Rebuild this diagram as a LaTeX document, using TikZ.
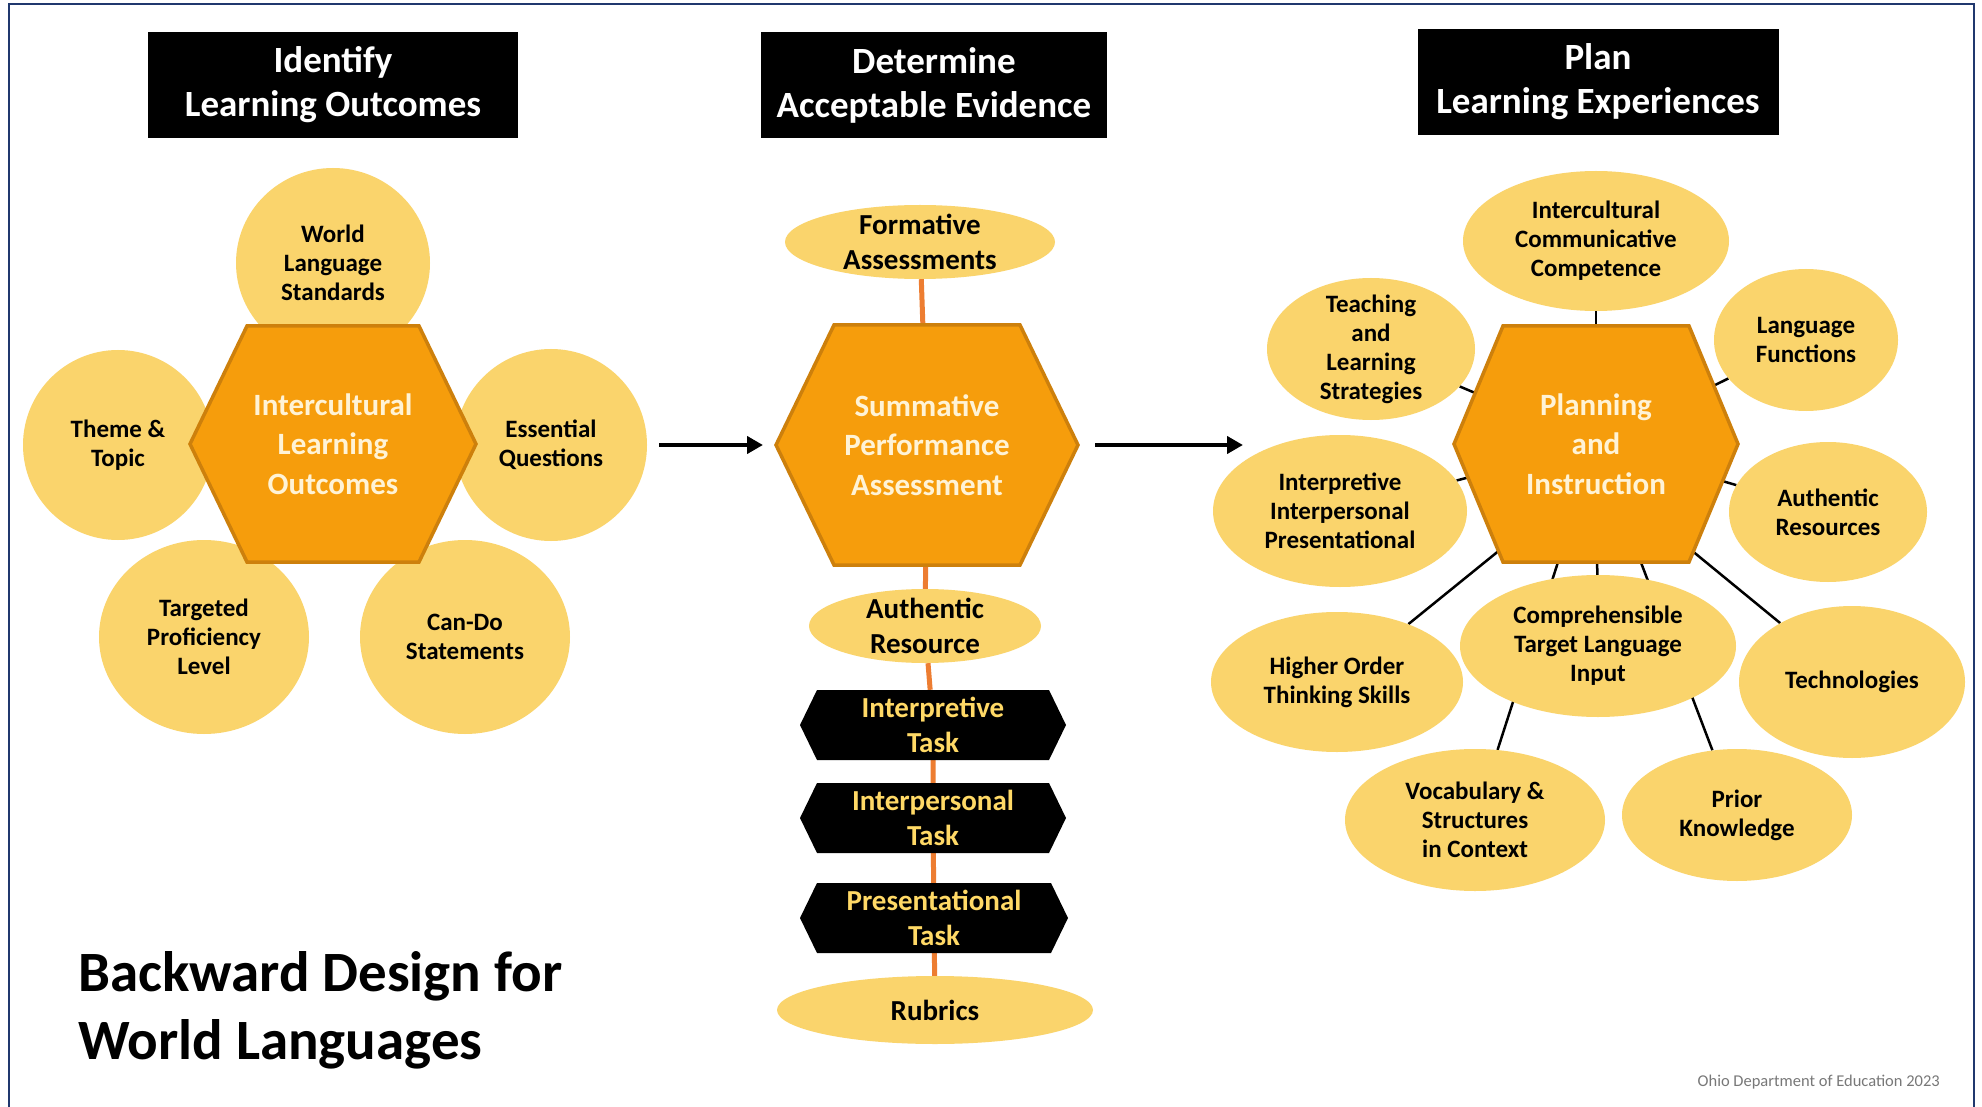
\documentclass[tikz,border=0pt]{standalone}
\usepackage{fontspec}
\setmainfont{Carlito}
\usetikzlibrary{shapes.geometric,arrows.meta}
\pgfdeclarelayer{bg}
\pgfdeclarelayer{paper}
\pgfsetlayers{paper,bg,main}
\definecolor{yel}{RGB}{250,212,108}
\definecolor{org}{RGB}{246,157,12}
\definecolor{orgd}{RGB}{205,128,12}
\definecolor{hextxt}{RGB}{255,243,214}
\definecolor{conn}{RGB}{237,125,49}
\definecolor{navy}{RGB}{32,56,110}
\definecolor{tasktxt}{RGB}{255,217,102}
\definecolor{credit}{RGB}{120,120,120}
\newcommand\fs[2]{\fontsize{#1}{#2}\selectfont}
\tikzset{
  bubble/.style={ellipse, fill=yel, inner sep=0pt},
  btxt/.style={align=center, font=\bfseries\fs{25}{29}, text=black, inner sep=0pt},
  mtxt/.style={align=center, font=\bfseries\fs{29}{35}, text=black, inner sep=0pt},
  hexfill/.style={fill=org, draw=orgd, line width=3.5pt, line join=miter},
  htxt/.style={align=center, font=\bfseries\fs{31}{39.5}, text=hextxt, inner sep=0pt},
  ttxt/.style={align=center, font=\bfseries\fs{29}{35}, text=tasktxt, inner sep=0pt},
  hdr/.style={fill=black, text=white, align=center, font=\bfseries\fs{37}{44}, inner sep=0pt},
  oline/.style={draw=conn, line width=5pt},
  bline/.style={draw=black, line width=2.5pt},
  arr/.style={draw=black, line width=4.5pt, -{Triangle[length=16pt,width=17pt]}},
}
% name, cx, cy, rx, ry, text, text style
\newcommand\bub[7]{%
  \node[bubble, minimum width=#4*2, minimum height=#5*2] (#1) at (#2,#3) {};
  \node[#7] (#1t) at (#2,#3) {#6};}
% name, cx, cy, half width, half top width, half height, text
\newcommand\hexa[7]{%
  \filldraw[hexfill] ({#2-#4},#3) -- ({#2-#5},{#3-#6}) -- ({#2+#5},{#3-#6}) -- ({#2+#4},#3)
     -- ({#2+#5},{#3+#6}) -- ({#2-#5},{#3+#6}) -- cycle;
  \coordinate (#1-w) at ({#2-#4},#3);
  \coordinate (#1-e) at ({#2+#4},#3);
  \node[htxt] (#1) at (#2,#3) {#7};}
% name, cx, cy, half width, text
\newcommand\task[5]{%
  \fill[black] ({#2-#4},#3) -- ({#2-#4+17},{#3-35}) -- ({#2+#4-17},{#3-35}) -- ({#2+#4},#3)
     -- ({#2+#4-17},{#3+35}) -- ({#2-#4+17},{#3+35}) -- cycle;
  \node[ttxt, minimum height=70pt] (#1) at (#2,#3) {#5};}
\begin{document}
\begin{tikzpicture}[x=1pt,y=-1pt]
\useasboundingbox (0,0) rectangle (1982,1107);
\begin{pgfonlayer}{paper}
\fill[white] (0,0) rectangle (1982,1107);
\end{pgfonlayer}
\draw[navy, line width=2.5pt] (9,1112) -- (9,4) -- (1974,4) -- (1974,1112);

% headers
\node[hdr, minimum width=370pt, minimum height=106pt] (hd1) at (333,85) {Identify\\Learning Outcomes};
\node[hdr, minimum width=346pt, minimum height=106pt] (hd2) at (934,85) {Determine\\Acceptable Evidence};
\node[hdr, minimum width=361pt, minimum height=106pt] (hd3) at (1598,82) {Plan\\Learning Experiences};

% left cluster
\bub{tt}{118}{445}{95}{95}{Theme \&\\Topic}{btxt}
\bub{eq}{551}{445}{96}{96}{Essential\\Questions}{btxt}
\bub{wls}{333}{263}{97}{95}{World\\Language\\Standards}{btxt}
\bub{tpl}{204}{637}{105}{97}{Targeted\\Proficiency\\Level}{btxt}
\bub{cds}{465}{637}{105}{97}{Can-Do\\Statements}{btxt}
\hexa{h1}{333}{444}{143}{86}{118}{Intercultural\\Learning\\Outcomes}

% middle column
\bub{fa}{920}{242}{135}{37}{Formative\\Assessments}{mtxt}
\hexa{h2}{927}{445}{151}{93}{120}{Summative\\Performance\\Assessment}
\bub{ar}{925}{626}{116}{37}{Authentic\\Resource}{mtxt}
\task{t1}{933}{725}{133}{Interpretive\\Task}
\task{t2}{933}{818}{133}{Interpersonal\\Task}
\task{t3}{934}{918}{134}{Presentational\\Task}
\bub{rub}{935}{1010}{158}{34}{Rubrics}{mtxt}

% right cluster
\bub{icc}{1596}{241}{133}{70}{Intercultural\\Communicative\\Competence}{btxt}
\bub{tls}{1371}{349}{104}{71}{Teaching\\and\\Learning\\Strategies}{btxt}
\bub{lf}{1806}{340}{92}{71}{Language\\Functions}{btxt}
\bub{iip}{1340}{511}{127}{76}{Interpretive\\Interpersonal\\Presentational}{btxt}
\bub{aur}{1828}{512}{99}{70}{Authentic\\Resources}{btxt}
\bub{ctl}{1598}{646}{138}{71}{Comprehensible\\Target Language\\Input}{btxt}
\bub{hots}{1337}{682}{126}{70}{Higher Order\\Thinking Skills}{btxt}
\bub{tech}{1852}{682}{113}{76}{Technologies}{btxt}
\bub{vsc}{1475}{820}{130}{71}{Vocabulary \&\\Structures\\in Context}{btxt}
\bub{pk}{1737}{815}{115}{66}{Prior\\Knowledge}{btxt}
\hexa{h3}{1596}{444}{142}{93}{118}{Planning\\and\\Instruction}
\coordinate (h3b) at (1596,472);

% arrows
\draw[arr] ([xshift=12pt]eq.east) -- ([xshift=-13pt]h2-w);
\draw[arr] ([xshift=17pt]h2-e) -- ++(148,0);

% connectors behind
\begin{pgfonlayer}{bg}
\draw[oline] (fa) -- (h2) -- (ar) -- (t1) -- (t2) -- (t3) -- (rub);
\draw[bline] (h3) -- (icc);
\draw[bline] (h3) -- (tls);
\draw[bline] (h3) -- (lf);
\draw[bline] (h3) -- (iip);
\draw[bline] (h3) -- (aur);
\draw[bline] (h3) -- (ctl);
\draw[bline] (h3) -- (vsc);
\draw[bline] (h3) -- (pk);
\draw[bline] (h3b) -- (hots);
\draw[bline] (h3b) -- (tech);
\end{pgfonlayer}

% title and credit
\node[anchor=west, align=left, font=\bfseries\fs{57}{68}, inner sep=0pt] (title) at (78,1010) {Backward Design for\\World Languages};
\node[anchor=east, font=\fs{16.5}{19}, text=credit, inner sep=0pt] (cred) at (1940,1082) {Ohio Department of Education 2023};
\end{tikzpicture}
\end{document}
